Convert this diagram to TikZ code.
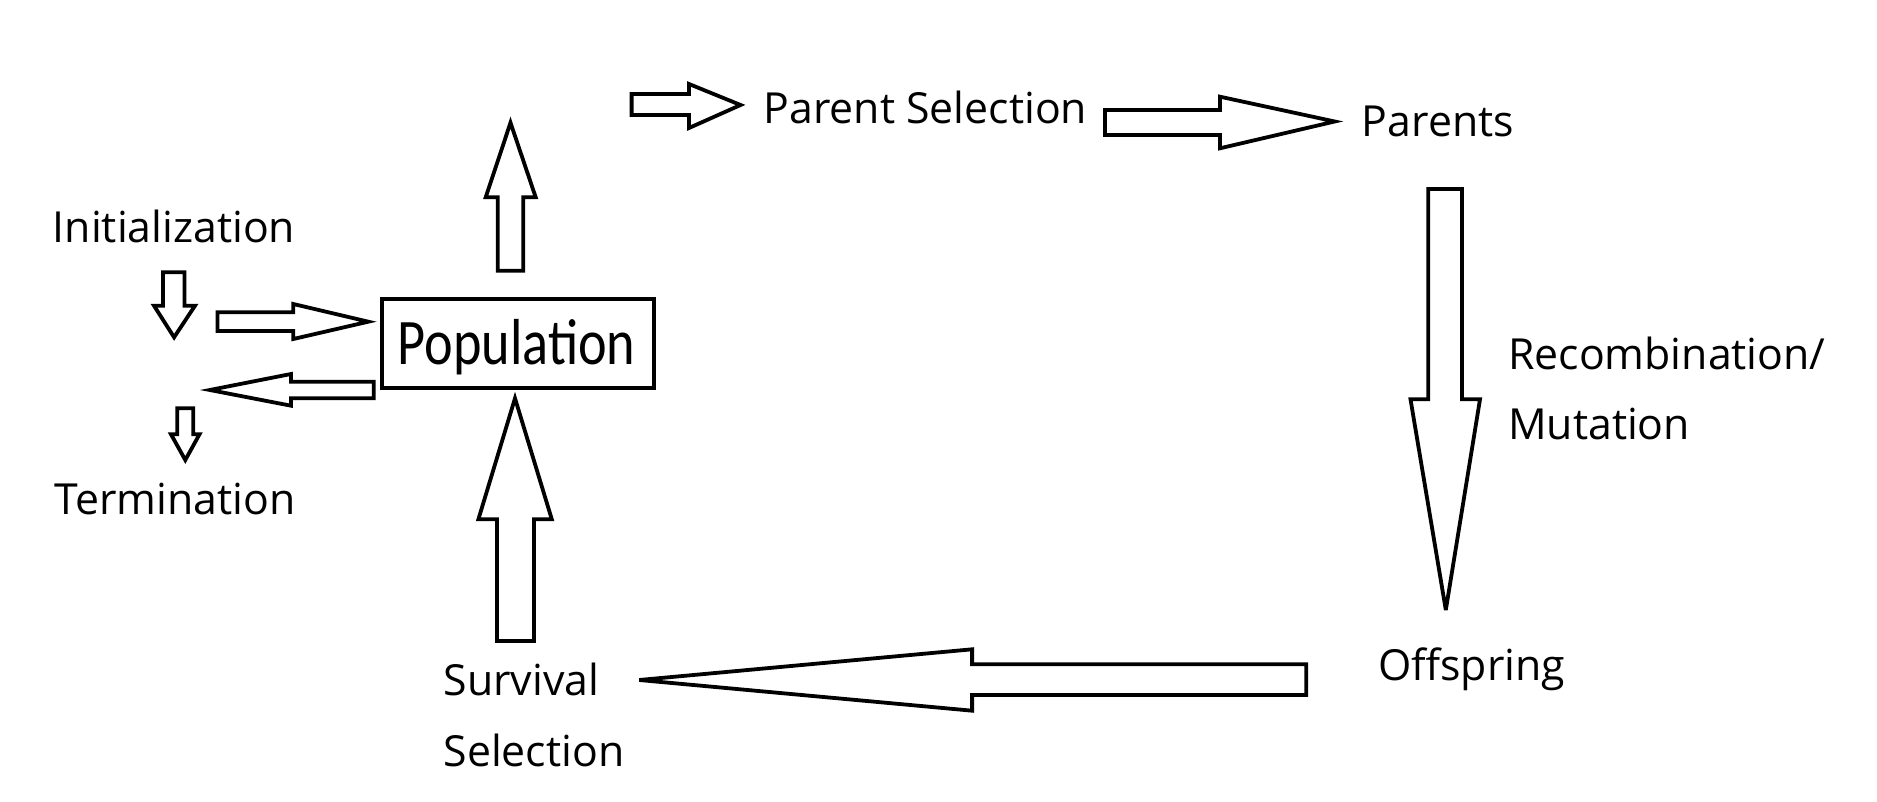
\documentclass[tikz,border=0pt]{standalone}
\usepackage{fontspec}
\setmainfont{Open Sans}
\newfontfamily\popfont[FakeStretch=0.835]{Carlito}
\begin{document}
\begin{tikzpicture}[x=1pt,y=-1pt,
  blockarrow/.style={draw=black,fill=white,line width=3.8pt,line join=miter,miter limit=6},
  lbl/.style={anchor=base west,inner sep=0pt,font=\fontsize{42.8}{50}\selectfont},
  popbox/.style={draw=black,line width=3.6pt,minimum width=272pt,minimum height=89pt,inner sep=0pt}]
\useasboundingbox[fill=white] (0,0) rectangle (1877,802);

% labels
\node[lbl] (init) at (52.7,242.3) {Initialization};
\node[lbl] (term) at (54.5,514.3) {Termination};
\node[lbl] (psel) at (763.6,123.3) {Parent Selection};
\node[lbl] (parents) at (1361.7,136.7) {Parents};
\node[lbl] (recomb) at (1508,369) {Recombination/};
\node[lbl] (mut) at (1508,439.3) {Mutation};
\node[lbl] (off) at (1378,680) {Offspring};
\node[lbl] (surv) at (443.3,695) {Survival};
\node[lbl] (ssel) at (443.3,766.7) {Selection};

% population box
\node[popbox] (pop) at (517.85,343.5) {};
\node[anchor=base west,inner sep=0pt,font=\popfont\fontsize{65}{70}\selectfont] (poptext) at (397.3,364.3) {Population};

% block arrows
% up from population
\draw[blockarrow] (497.7,270.7) -- (523.2,270.7) -- (523.2,197.3) -- (535.7,197.3) -- (510.5,122.7) -- (485.7,197.3) -- (497.7,197.3) -- cycle;
% down under initialization
\draw[blockarrow] (163,272.3) -- (184.4,272.3) -- (184.4,305.7) -- (195,305.7) -- (174.1,337.3) -- (154,305.7) -- (163,305.7) -- cycle;
% right into population
\draw[blockarrow] (217.4,312.3) -- (293.3,312.3) -- (293.3,304) -- (368.3,321.7) -- (293.3,339) -- (293.3,331) -- (217.4,331) -- cycle;
% left out of population
\draw[blockarrow] (373.7,381.7) -- (291,381.7) -- (291,374) -- (209.8,390) -- (291,405.7) -- (291,398.3) -- (373.7,398.3) -- cycle;
% down above termination
\draw[blockarrow] (177.2,408.3) -- (193.3,408.3) -- (193.3,434.3) -- (199.5,434.3) -- (185.3,460) -- (171,434.3) -- (177.2,434.3) -- cycle;
% up into population from survival selection
\draw[blockarrow] (497,641) -- (534,641) -- (534,519.3) -- (551.8,519.3) -- (515,398.3) -- (478.4,519.3) -- (497,519.3) -- cycle;
% offspring to survival selection
\draw[blockarrow] (1306.3,664.3) -- (972.1,664.3) -- (972.1,649.3) -- (639.2,680) -- (972.1,710.7) -- (972.1,695) -- (1306.3,695) -- cycle;
% small arrow to parent selection
\draw[blockarrow] (631.6,94) -- (689,94) -- (689,84) -- (740.6,105) -- (689,128) -- (689,115) -- (631.6,115) -- cycle;
% parent selection to parents
\draw[blockarrow] (1105,110) -- (1220,110) -- (1220,96.7) -- (1334.7,121.5) -- (1220,148.3) -- (1220,135) -- (1105,135) -- cycle;
% parents to offspring
\draw[blockarrow] (1428.3,189) -- (1461.9,189) -- (1461.9,399.3) -- (1480,399.3) -- (1445.8,610) -- (1410.5,399.3) -- (1428.3,399.3) -- cycle;
\end{tikzpicture}
\end{document}
